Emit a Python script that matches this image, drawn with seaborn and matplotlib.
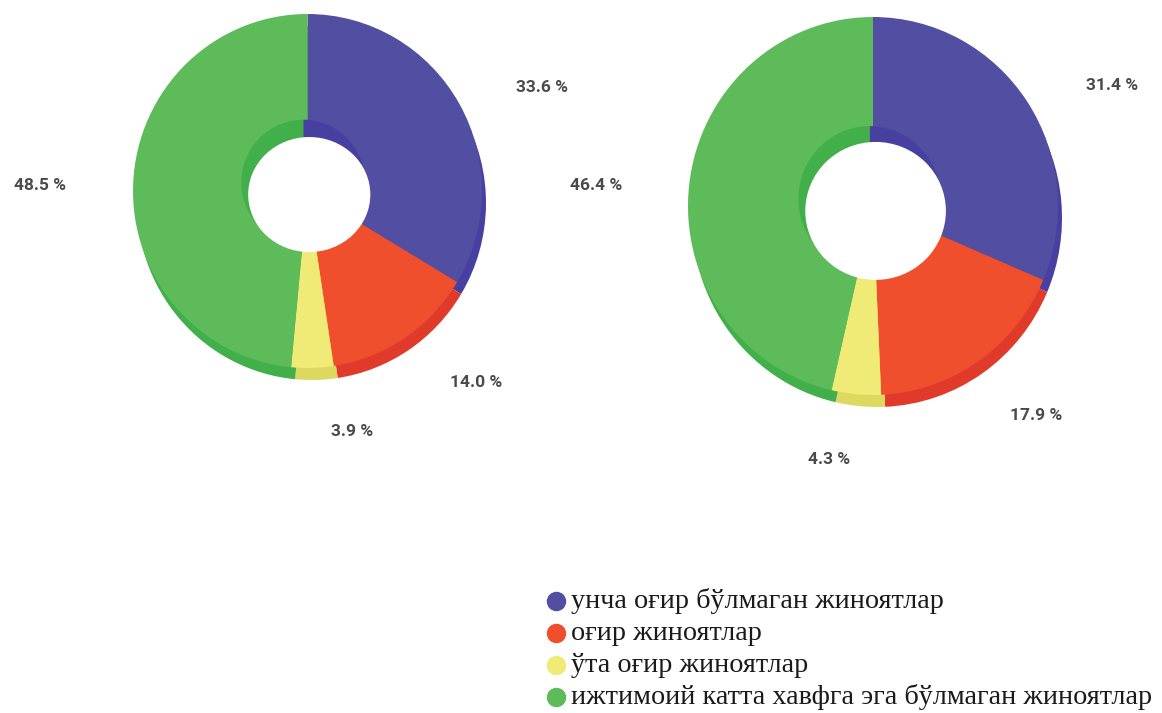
import matplotlib
matplotlib.use("Agg")
import matplotlib.pyplot as plt
from matplotlib.patches import Ellipse
from matplotlib.lines import Line2D
import seaborn as sns

sns.set_theme(style="white")
plt.rcParams['font.family'] = ['Roboto', 'DejaVu Sans']

categories = ["унча оғир бўлмаган жиноятлар", "оғир жиноятлар",
              "ўта оғир жиноятлар", "ижтимоий катта хавфга эга бўлмаган жиноятлар"]
left_values = [33.6, 14.0, 3.9, 48.5]
right_values = [31.4, 17.9, 4.3, 46.4]
left_labels = ["33.6 %", "14.0 %", "3.9 %", "48.5 %"]
right_labels = ["31.4 %", "17.9 %", "4.3 %", "46.4 %"]

colors = ["#524fa2", "#ef4f2c", "#f0ea76", "#5dbb5a"]
dark = ["#4840a0", "#e03a2a", "#dcd860", "#42b04a"]

W, H = 1162, 713
fig = plt.figure(figsize=(W / 100, H / 100), dpi=100)
fig.patch.set_facecolor("white")


def donut(values, x0, y0, x1, y1, hole, labels, label_pos):
    ax = fig.add_axes([x0 / W, 1 - y1 / H, (x1 - x0) / W, (y1 - y0) / H])
    rx = (x1 - x0) / 2
    ry = (y1 - y0) / 2
    # side of the 3D ring
    wedges, _ = ax.pie(values, colors=dark, startangle=90, counterclock=False,
                       radius=1.0, center=(4 / rx, -12 / ry), frame=True,
                       wedgeprops=dict(linewidth=0))
    for w in wedges:
        w.set_clip_on(False)
    # top face
    wedges, _ = ax.pie(values, colors=colors, startangle=90, counterclock=False,
                       radius=1.0, center=(0, 0), frame=True,
                       wedgeprops=dict(linewidth=0))
    for w in wedges:
        w.set_clip_on(False)
    hx, hy, hw, hh = hole
    # inner wall of the hole
    ax.pie(values, colors=dark, startangle=90, counterclock=False,
           radius=hw / 2 + 0.005, center=(hx - 6 / rx, hy + 12 / ry), frame=True,
           wedgeprops=dict(linewidth=0))
    ax.add_patch(Ellipse((hx, hy), hw, hh, facecolor="white",
                         edgecolor="none", zorder=5))
    ax.set_xlim(-1, 1)
    ax.set_ylim(-1, 1)
    ax.set_aspect("auto")
    ax.axis("off")
    for lab, (px, py) in zip(labels, label_pos):
        fig.text(px / W, 1 - py / H, lab, ha="center", va="center",
                 fontsize=12.5, fontweight="bold", color="#4a4a4a",
                 fontstretch="condensed")


donut(left_values, 133, 14, 482, 368, (0.01, -0.02, 0.70, 0.65), left_labels,
      [(542, 88), (476, 383), (352, 432), (40, 186)])
donut(right_values, 688, 17, 1058, 395, (0.014, -0.026, 0.76, 0.73), right_labels,
      [(1112, 85), (1036, 416), (829, 459), (596, 186)])

# legend
for i, (cat, c) in enumerate(zip(categories, colors)):
    y = 601 + 32 * i
    fig.add_artist(Line2D([556 / W], [1 - y / H], marker="o", markersize=13,
                          color=c, linestyle="none"))
    fig.text(571 / W, 1 - y / H, cat, ha="left", va="center",
             fontsize=20.3, color="#1a1a1a", family=["Liberation Serif", "DejaVu Serif"])

fig.savefig("out.png", dpi=100, facecolor="white")
